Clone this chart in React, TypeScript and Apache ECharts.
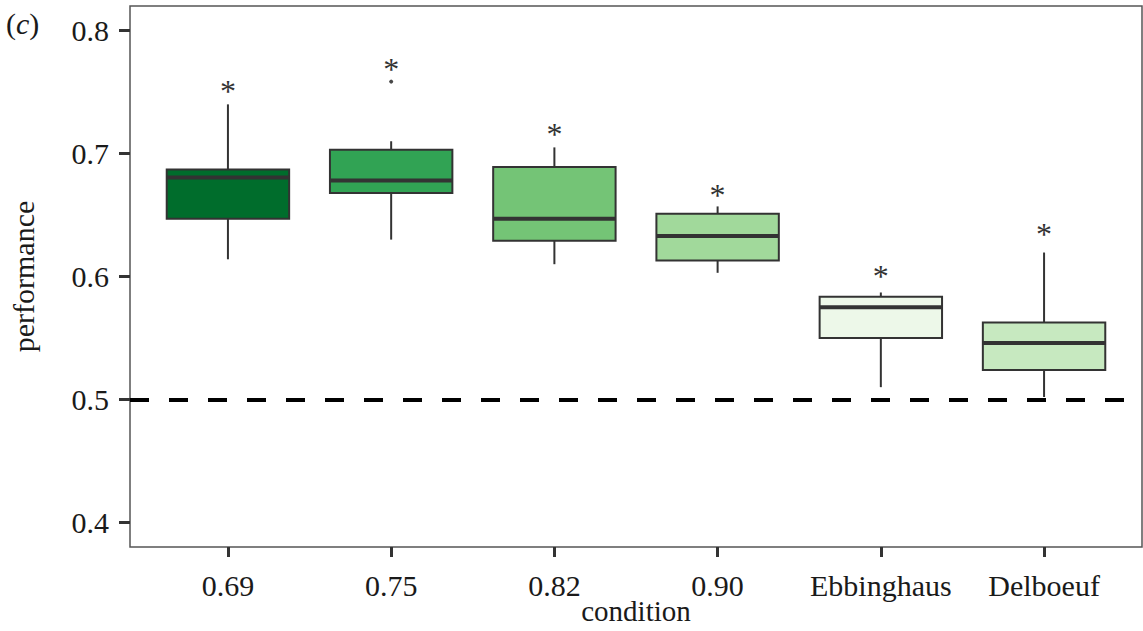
import React, { useEffect, useRef } from "react";
import * as echarts from "echarts";

const categories = ["0.69", "0.75", "0.82", "0.90", "Ebbinghaus", "Delboeuf"];
const whiskerLow = [0.614, 0.63, 0.61, 0.603, 0.51, 0.502];
const q1 = [0.647, 0.668, 0.629, 0.613, 0.55, 0.524];
const median = [0.6805, 0.678, 0.647, 0.633, 0.575, 0.546];
const q3 = [0.687, 0.703, 0.689, 0.651, 0.5835, 0.5625];
const whiskerHigh = [0.74, 0.71, 0.705, 0.657, 0.587, 0.6195];
const outliers: [number, number][] = [[1, 0.7585]];
const starY = [0.757, 0.775, 0.7225, 0.673, 0.607, 0.641];
const fillColors = ["#006d2c", "#31a354", "#74c476", "#a1d99b", "#edf8e9", "#c7e9c0"];
const chanceLevel = 0.5;
const yTicks = [0.4, 0.5, 0.6, 0.7, 0.8];
const xTicks = categories.map((_, i) => i);

const FONT = "'Liberation Serif', 'DejaVu Serif', serif";
const INK = "#333333";

export default function App() {
  const ref = useRef<HTMLDivElement>(null);
  useEffect(() => {
    if (!ref.current) return;
    const chart = echarts.init(ref.current, null, { renderer: "svg" });
    const boxData = categories.map((_, i) => [i, whiskerLow[i], q1[i], median[i], q3[i], whiskerHigh[i]]);
    const starData = categories.map((_, i) => [i, starY[i]]);
    chart.setOption({
      animation: false,
      backgroundColor: "#ffffff",
      grid: {
        left: 130,
        right: 1,
        top: 6,
        bottom: 84,
        show: true,
        containLabel: false,
        outerBoundsMode: "none",
        borderColor: "#555555",
        borderWidth: 1.5,
        backgroundColor: "transparent",
      },
      xAxis: {
        type: "value",
        min: -0.6,
        max: 5.6,
        name: "condition",
        nameLocation: "middle",
        nameGap: 49,
        nameMoveOverlap: false,
        nameTextStyle: { fontFamily: FONT, fontSize: 29, color: "#1a1a1a" },
        axisLine: { show: false, onZero: false },
        splitLine: { show: false },
        axisTick: { show: true, customValues: xTicks, length: 10, lineStyle: { color: INK, width: 3 } },
        axisLabel: {
          customValues: xTicks,
          margin: 23,
          fontFamily: FONT,
          fontSize: 30,
          color: "#1a1a1a",
          formatter: (v: number) => categories[Math.round(v)] ?? "",
        },
      },
      yAxis: {
        type: "value",
        min: 0.38,
        max: 0.82,
        name: "performance",
        nameLocation: "middle",
        nameGap: 92,
        nameMoveOverlap: false,
        nameTextStyle: { fontFamily: FONT, fontSize: 30, color: "#1a1a1a" },
        axisLine: { show: false, onZero: false },
        splitLine: { show: false },
        axisTick: { show: true, customValues: yTicks, length: 11, lineStyle: { color: INK, width: 3 } },
        axisLabel: {
          customValues: yTicks,
          margin: 21,
          fontFamily: FONT,
          fontSize: 30,
          color: "#1a1a1a",
          formatter: (v: number) => v.toFixed(1),
        },
      },
      graphic: [
        {
          type: "text",
          left: 6,
          top: 8,
          style: {
            text: "{n|(}{i|c}{n|)}",
            rich: {
              n: { fontFamily: FONT, fontSize: 30, fill: "#1a1a1a" },
              i: { fontFamily: FONT, fontSize: 30, fontStyle: "italic", fill: "#1a1a1a" },
            },
          },
        },
      ],
      series: [
        {
          type: "custom",
          data: boxData,
          encode: { x: 0, y: [1, 2, 3, 4, 5] },
          renderItem: (params: any, api: any) => {
            const idx = params.dataIndex;
            const x = api.value(0);
            const lo = api.coord([x, api.value(1)]);
            const b1 = api.coord([x, api.value(2)]);
            const md = api.coord([x, api.value(3)]);
            const b3 = api.coord([x, api.value(4)]);
            const hi = api.coord([x, api.value(5)]);
            const w = api.size([0.75, 0])[0];
            const cx = lo[0];
            const line = { stroke: INK, lineWidth: 2 };
            return {
              type: "group",
              children: [
                { type: "line", shape: { x1: cx, y1: hi[1], x2: cx, y2: b3[1] }, style: line },
                { type: "line", shape: { x1: cx, y1: b1[1], x2: cx, y2: lo[1] }, style: line },
                {
                  type: "rect",
                  shape: { x: cx - w / 2, y: b3[1], width: w, height: b1[1] - b3[1] },
                  style: { fill: fillColors[idx], stroke: INK, lineWidth: 2 },
                },
                {
                  type: "line",
                  shape: { x1: cx - w / 2, y1: md[1], x2: cx + w / 2, y2: md[1] },
                  style: { stroke: INK, lineWidth: 4 },
                },
              ],
            };
          },
          markLine: {
            silent: true,
            symbol: "none",
            label: { show: false },
            lineStyle: { color: "#000000", width: 4, type: [19, 20] },
            data: [{ yAxis: chanceLevel }],
          },
        },
        {
          type: "scatter",
          data: outliers,
          symbol: "circle",
          symbolSize: 4,
          itemStyle: { color: "#1a1a1a" },
        },
        {
          type: "custom",
          data: starData,
          renderItem: (params: any, api: any) => {
            const p = api.coord([api.value(0), api.value(1)]);
            return {
              type: "text",
              x: p[0],
              y: p[1] + 8,
              style: {
                text: "*",
                fontFamily: FONT,
                fontSize: 32,
                fill: "#333333",
                align: "center",
                verticalAlign: "middle",
              },
            };
          },
        },
      ],
    });
    return () => chart.dispose();
  }, []);
  return <div ref={ref} style={{ position: "fixed", left: 0, top: 0, width: 1143, height: 631 }} />;
}
